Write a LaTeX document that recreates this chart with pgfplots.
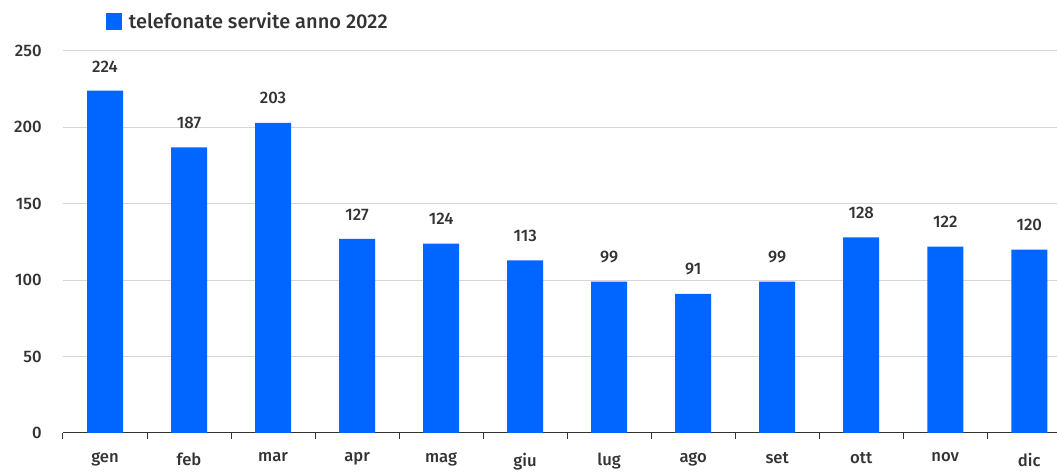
\documentclass[border=0pt]{standalone}
\usepackage{fontspec}
\setmainfont{Fira Sans}[BoldFont={Fira Sans Medium}]
\usepackage{pgfplots}
\pgfplotsset{compat=1.18}
\definecolor{barblue}{HTML}{0066FF}
\definecolor{txt}{HTML}{333333}
\definecolor{gridc}{HTML}{D6D6D6}
\begin{document}
\begin{tikzpicture}
\begin{axis}[
  scale only axis,
  width=745.5pt, height=286.5pt,
  xmin=-0.5, xmax=11.33,
  ymin=0, ymax=250,
  ytick={0,50,...,250},
  yticklabels={},
  ymajorgrids=true, xmajorgrids=false,
  y grid style={gridc, line width=0.75pt},
  axis x line*=bottom,
  axis y line*=left,
  y axis line style={draw=none},
  ytick style={draw=none},
  x axis line style={txt, line width=0.75pt, -},
  xtick={0,...,11},
  xticklabels={gen,feb,mar,apr,mag,giu,lug,ago,set,ott,nov,dic},
  major x tick style={draw=none},
  minor xtick={-0.5,0.5,...,10.5},
  minor x tick style={txt, line width=0.75pt},
  minor tick length=4.5pt,
  tick align=outside,
  xticklabel style={font=\bfseries\fontsize{12.5}{14}\selectfont, text=txt, yshift=-7pt},
  /pgf/number format/assume math mode=true,
  ybar, bar width=27pt,
  nodes near coords,
  nodes near coords style={font=\bfseries\fontsize{12.5}{14}\selectfont, text=txt, yshift=10.5pt},
  legend style={at={(rel axis cs:0.0433,1)}, anchor=south west, yshift=13pt, draw=none, fill=none,
    font=\bfseries\fontsize{15}{17}\selectfont, text=txt, inner sep=0pt},
  legend image code/.code={\fill[barblue] (0pt,-6.5pt) rectangle (12pt,6.5pt); \path (15pt,0pt);},
  clip=false,
]
\addplot[fill=barblue, draw=none] coordinates {
(0,224) (1,187) (2,203) (3,127) (4,124) (5,113) (6,99) (7,91) (8,99) (9,128) (10,122) (11,120)};
\addlegendentry{telefonate servite anno 2022}
\pgfplotsinvokeforeach{0,50,100,150,200,250}{
  \node[anchor=east, text=txt, font=\bfseries\fontsize{12.5}{14}\selectfont] at ([xshift=-12.5pt]axis cs:-0.5,#1) {#1};
}
\coordinate (bl) at (rel axis cs:0,0);
\coordinate (tr) at (rel axis cs:1,1);
\end{axis}
\pgfresetboundingbox
\path ([xshift=-47.25pt,yshift=-30pt]bl) rectangle ([yshift=38.25pt]tr);
\end{tikzpicture}
\end{document}
